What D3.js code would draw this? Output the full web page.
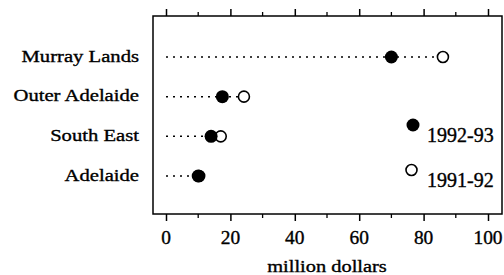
<!DOCTYPE html>
<html lang="en">
<head>
    <meta charset="UTF-8">
    <title>Regions dot plot</title>
    <script src="https://cdn.jsdelivr.net/npm/d3@7"></script>
    <style>
        body { margin: 0; background: #fff; }
        svg text { font-family: "Liberation Serif", "Times New Roman", serif; fill: #000; stroke: #000; stroke-width: 0.35px; }
        .frame { fill: none; stroke: #000; stroke-width: 1.5px; }
        .guide { stroke: #000; stroke-width: 1.5px; stroke-dasharray: 2, 5; }
    </style>
</head>
<body>
    <div id="chart"></div>
    <script>
        // data
        const regions = ["Murray Lands", "Outer Adelaide", "South East", "Adelaide"];
        const values9293 = [70, 17.5, 14, 10];
        const values9192 = [86, 24.2, 17, 10.3];
        const seriesNames = ["1992-93", "1991-92"];
        const tickValues = [0, 20, 40, 60, 80, 100];
        const minorTicks = [10, 30, 50, 70, 90];

        const W = 504, H = 275;
        // plot frame (pixels)
        const frame = { left: 153, right: 502, top: 16, bottom: 214 };

        const x = d3.scaleLinear().domain([0, 100]).range([166, 488]);
        const y = d3.scalePoint().domain(regions).range([57, 176]);

        const svg = d3.select("#chart").append("svg")
            .attr("width", W)
            .attr("height", H);

        // stretched serif text like the scanned original
        function label(g, str, px, py, size, sx, anchor) {
            return g.append("text")
                .attr("transform", "translate(" + px + "," + py + ") scale(" + sx + ",1)")
                .attr("font-size", size)
                .attr("text-anchor", anchor)
                .text(str);
        }

        // frame
        svg.append("rect")
            .attr("class", "frame")
            .attr("x", frame.left)
            .attr("y", frame.top)
            .attr("width", frame.right - frame.left)
            .attr("height", frame.bottom - frame.top);

        // ticks top + bottom
        const gb = svg.append("g").attr("transform", "translate(0," + frame.bottom + ")")
            .call(d3.axisBottom(x).tickValues(tickValues).tickSize(7).tickFormat(""));
        gb.select(".domain").remove();
        gb.selectAll(".tick line").attr("stroke-width", 1.5);

        const gt = svg.append("g").attr("transform", "translate(0," + frame.top + ")")
            .call(d3.axisTop(x).tickValues(tickValues).tickSize(7).tickFormat(""));
        gt.select(".domain").remove();
        gt.selectAll(".tick line").attr("stroke-width", 1.5);

        [[frame.bottom, 1], [frame.top, -1]].forEach(function(s) {
            svg.append("g").selectAll("line")
                .data(minorTicks)
                .join("line")
                .attr("x1", d => x(d)).attr("x2", d => x(d))
                .attr("y1", s[0]).attr("y2", s[0] + s[1] * 4)
                .attr("stroke", "#000").attr("stroke-width", 1.3);
        });

        // tick labels
        const tl = svg.append("g");
        tickValues.forEach(function(v) {
            label(tl, String(v), x(v), 244, 18.5, 1.05, "middle");
        });

        // axis title
        label(svg, "million dollars", 327, 272, 17, 1.2, "middle");

        // region labels
        const rl = svg.append("g");
        regions.forEach(function(r) {
            label(rl, r, 139, y(r) + 4.5, 17.5, 1.18, "end");
        });

        // dotted guides from 0 to the larger value
        svg.append("g").selectAll("line")
            .data(regions)
            .join("line")
            .attr("class", "guide")
            .attr("x1", x(0))
            .attr("x2", (d, i) => x(Math.max(values9293[i], values9192[i])))
            .attr("y1", d => y(d))
            .attr("y2", d => y(d));

        // open circles (1991-92) under filled ones
        svg.append("g").selectAll("circle")
            .data(regions)
            .join("circle")
            .attr("cx", (d, i) => x(values9192[i]))
            .attr("cy", d => y(d))
            .attr("r", 5.5)
            .attr("fill", "#fff")
            .attr("stroke", "#000")
            .attr("stroke-width", 1.6);

        svg.append("g").selectAll("circle")
            .data(regions)
            .join("circle")
            .attr("cx", (d, i) => x(values9293[i]))
            .attr("cy", d => y(d))
            .attr("r", 6.5)
            .attr("fill", "#000");

        // legend
        const lg = svg.append("g");
        lg.append("circle").attr("cx", 413).attr("cy", 125).attr("r", 6.5).attr("fill", "#000");
        label(lg, seriesNames[0], 427, 142, 20, 1, "start");
        lg.append("circle").attr("cx", 411.5).attr("cy", 170).attr("r", 5.5)
            .attr("fill", "#fff").attr("stroke", "#000").attr("stroke-width", 1.6);
        label(lg, seriesNames[1], 427, 186.5, 20, 1, "start");
    </script>
</body>
</html>
